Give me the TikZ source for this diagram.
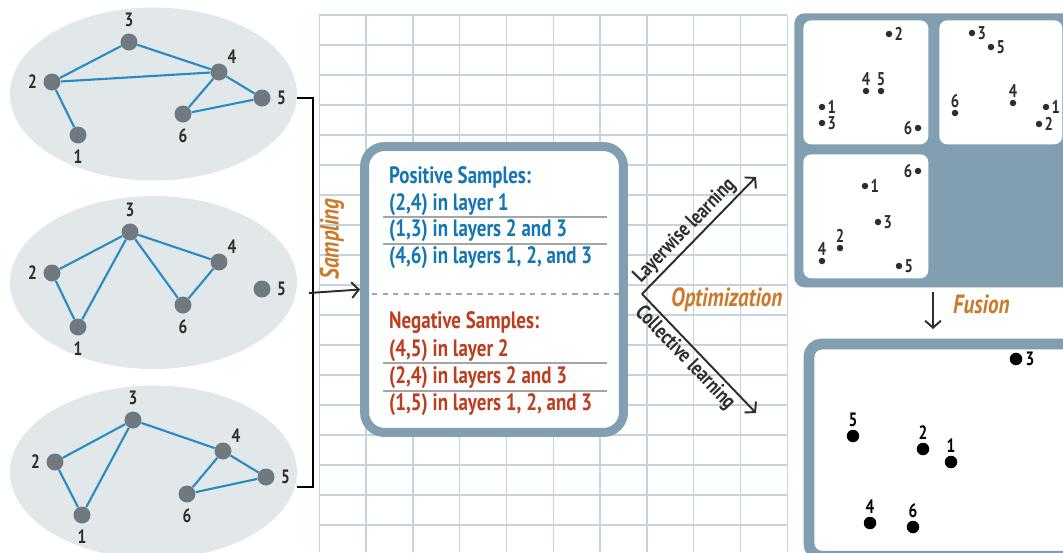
\documentclass[tikz,border=0pt]{standalone}
\usepackage{fontspec}
\setmainfont{PT Sans}
\newfontfamily\narrowfont[FakeStretch=0.8]{PT Sans}
\usetikzlibrary{arrows.meta,shapes.geometric}
\definecolor{gridc}{RGB}{196,212,222}
\definecolor{layerc}{RGB}{226,231,234}
\definecolor{nodec}{RGB}{112,120,128}
\definecolor{edgec}{RGB}{40,140,196}
\definecolor{boxc}{RGB}{129,159,176}
\definecolor{posc}{RGB}{20,118,178}
\definecolor{negc}{RGB}{188,62,30}
\definecolor{stepc}{RGB}{204,122,42}
\definecolor{labc}{RGB}{45,45,45}
\definecolor{sepc}{RGB}{165,165,165}

\begin{document}
\begin{tikzpicture}[x=0.02cm,y=-0.02cm]
	\tikzset{gnode/.style={circle, fill=nodec, inner sep=0pt, minimum size=.34cm},
		gedge/.style={draw=edgec, line width=1.2pt},
		glab/.style={font=\narrowfont\bfseries\fontsize{11}{13}\selectfont, text=labc},
		layer/.style={ellipse, fill=layerc, minimum width=5.74cm, minimum height=3.46cm},
		rowtext/.style={anchor=base west, font=\narrowfont\bfseries\fontsize{13.5}{15}\selectfont},
		steptext/.style={text=stepc, font=\narrowfont\bfseries\itshape\fontsize{15}{17}\selectfont},
		flow/.style={draw=labc, line width=1.1pt, -{Straight Barb[length=4pt,width=9pt]}},
		sdot/.style={circle, fill=labc, inner sep=0pt, minimum size=.13cm},
		bdot/.style={circle, fill=black, inner sep=0pt, minimum size=.25cm},
		slab/.style={font=\narrowfont\bfseries\fontsize{10.5}{12}\selectfont, text=labc, inner sep=1pt},
		blab/.style={font=\narrowfont\bfseries\fontsize{11}{13}\selectfont, text=black, inner sep=1.5pt},
		panel/.style={fill=white, rounded corners=1.6mm, anchor=north west, inner sep=0pt}}
	
	\useasboundingbox (0,0) rectangle (1063,552);
	\clip (0,0) rectangle (1063,552);
	
	\foreach \i in {0,...,10}
		\draw[gridc, line width=.8pt] (319.3+46.8*\i,15) -- (319.3+46.8*\i,552);
	\foreach \j in {0,...,17}
		\draw[gridc, line width=.8pt] (319.3,15+30*\j) -- (787.3,15+30*\j);
	
	\node[layer] (layer_1) at (153.5,94) {};
	\node[layer] (layer_2) at (153.5,282.5) {};
	\node[layer] (layer_3) at (153.5,472) {};
	
	\node[gnode, label={[glab]below:1}] (a_1) at (78,135) {};
	\node[gnode, label={[glab]left:2}] (a_2) at (52,82) {};
	\node[gnode, label={[glab]above:3}] (a_3) at (129,42) {};
	\node[gnode, label={[glab, label distance=-3pt]above right:4}] (a_4) at (219,72) {};
	\node[gnode, label={[glab]right:5}] (a_5) at (262,98) {};
	\node[gnode, label={[glab]below:6}] (a_6) at (183,114) {};
	\draw[gedge] (a_2) -- (a_3) -- (a_4) -- (a_2) -- (a_1);
	\draw[gedge] (a_4) -- (a_5) -- (a_6) -- (a_4);
	
	\node[gnode, label={[glab]below:1}] (b_1) at (78,327) {};
	\node[gnode, label={[glab]left:2}] (b_2) at (52,273) {};
	\node[gnode, label={[glab]above:3}] (b_3) at (130,232) {};
	\node[gnode, label={[glab, label distance=-3pt]above right:4}] (b_4) at (219,262) {};
	\node[gnode, label={[glab]right:5}] (b_5) at (262,289) {};
	\node[gnode, label={[glab]below:6}] (b_6) at (183,305) {};
	\draw[gedge] (b_1) -- (b_2) -- (b_3) -- (b_1);
	\draw[gedge] (b_3) -- (b_6) -- (b_4) -- (b_3);
	
	\node[gnode, label={[glab]below:1}] (c_1) at (82,515) {};
	\node[gnode, label={[glab]left:2}] (c_2) at (55,462) {};
	\node[gnode, label={[glab]above:3}] (c_3) at (133,420) {};
	\node[gnode, label={[glab, label distance=-3pt]above right:4}] (c_4) at (223,451) {};
	\node[gnode, label={[glab]right:5}] (c_5) at (266,477) {};
	\node[gnode, label={[glab]below:6}] (c_6) at (187,494) {};
	\draw[gedge] (c_1) -- (c_2) -- (c_3) -- (c_1);
	\draw[gedge] (c_3) -- (c_4) -- (c_5) -- (c_6) -- (c_4);
	
	\coordinate (brk_top) at (297,98);
	\coordinate (brk_bot) at (297,487);
	\coordinate (brk) at (309,293);
	\draw[black, line width=1.1pt] (brk_top) -- ++(16,0) |- (brk_bot);
	
	\node[draw=boxc, fill=white, line width=5.1pt, rounded corners=4mm, minimum width=5.18cm, minimum height=5.72cm] (samples) at (494,289.5) {};
	\draw[flow] (brk) -- (samples.west);
	\node[steptext, rotate=90] (sampling) at (332,239) {Sampling};
	
	\node[rowtext, text=posc] (pos_0) at (383,183.5) {Positive Samples:};
	\node[rowtext, text=posc] (pos_1) at (383,210) {(2,4) in layer 1};
	\node[rowtext, text=posc] (pos_2) at (383,236.5) {(1,3) in layers 2 and 3};
	\node[rowtext, text=posc] (pos_3) at (383,263.5) {(4,6) in layers 1, 2, and 3};
	\draw[sepc, line width=.6pt] (383,217) -- (607,217) (383,244) -- (607,244);
	\draw[sepc, line width=.9pt, dashed] (372,294) -- (619,294);
	\node[rowtext, text=negc] (neg_0) at (383,328.5) {Negative Samples:};
	\node[rowtext, text=negc] (neg_1) at (383,356.5) {(4,5) in layer 2};
	\node[rowtext, text=negc] (neg_2) at (383,383.5) {(2,4) in layers 2 and 3};
	\node[rowtext, text=negc] (neg_3) at (383,410) {(1,5) in layers 1, 2, and 3};
	\draw[sepc, line width=.6pt] (383,363) -- (607,363) (383,391) -- (607,391);
	
	\coordinate (opt) at (642,294);
	\coordinate (opt_up) at (756,177);
	\coordinate (opt_down) at (756,413);
	\draw[flow] (opt) -- node[pos=.46, sloped, above, inner sep=1.5pt, font=\narrowfont\bfseries\fontsize{12}{14}\selectfont, text=labc] {Layerwise learning} (opt_up);
	\draw[flow] (opt) -- node[pos=.46, sloped, below, inner sep=1.5pt, font=\narrowfont\bfseries\fontsize{12}{14}\selectfont, text=labc] {Collective learning} (opt_down);
	\node[steptext, anchor=west] (optimization) at (665,300) {Optimization};
	
	\node[fill=boxc, rounded corners=2mm, anchor=north west, inner sep=0pt, minimum width=5.8cm, minimum height=5.48cm] (perlayer) at (794,13) {};
	\node[panel, minimum width=2.5cm, minimum height=2.48cm] (panel_1) at (803,20) {};
	\node[panel, minimum width=2.46cm, minimum height=2.48cm] (panel_2) at (939,20) {};
	\node[panel, minimum width=2.5cm, minimum height=2.48cm] (panel_3) at (803,154) {};
	
	\node[sdot, label={[slab]right:1}] (p1_1) at (822,107) {};
	\node[sdot, label={[slab]right:2}] (p1_2) at (889,34) {};
	\node[sdot, label={[slab]right:3}] (p1_3) at (822,123) {};
	\node[sdot, label={[slab]above:4}] (p1_4) at (866,91) {};
	\node[sdot, label={[slab]above:5}] (p1_5) at (881,91) {};
	\node[sdot, label={[slab]left:6}] (p1_6) at (918,128) {};
	
	\node[sdot, label={[slab]right:1}] (p2_1) at (1046,107) {};
	\node[sdot, label={[slab]right:2}] (p2_2) at (1039,124) {};
	\node[sdot, label={[slab]right:3}] (p2_3) at (972,33) {};
	\node[sdot, label={[slab]above:4}] (p2_4) at (1013,103) {};
	\node[sdot, label={[slab]right:5}] (p2_5) at (991,47) {};
	\node[sdot, label={[slab]above:6}] (p2_6) at (955,113) {};
	
	\node[sdot, label={[slab]right:1}] (p3_1) at (865,186) {};
	\node[sdot, label={[slab]above:2}] (p3_2) at (840,248) {};
	\node[sdot, label={[slab]right:3}] (p3_3) at (878,222) {};
	\node[sdot, label={[slab]above:4}] (p3_4) at (822,261) {};
	\node[sdot, label={[slab]right:5}] (p3_5) at (899,266) {};
	\node[sdot, label={[slab]left:6}] (p3_6) at (918,171) {};
	
	\coordinate (fuse_top) at (933,292);
	\coordinate (fuse_bot) at (933,329);
	\draw[flow] (fuse_top) -- (fuse_bot);
	\node[steptext, anchor=west] (fusion) at (947,304) {Fusion};
	
	\node[draw=boxc, fill=white, line width=6.2pt, rounded corners=2.6mm, anchor=north west, inner sep=0pt, minimum width=6cm, minimum height=4.25cm] (fused) at (803.5,338.5) {};
	\node[bdot, label={[blab]above:1}] (f_1) at (951,462) {};
	\node[bdot, label={[blab]above:2}] (f_2) at (923,449) {};
	\node[bdot, label={[blab]right:3}] (f_3) at (1016,359) {};
	\node[bdot, label={[blab]above:4}] (f_4) at (870,523) {};
	\node[bdot, label={[blab]above:5}] (f_5) at (853,436) {};
	\node[bdot, label={[blab]above:6}] (f_6) at (913,527) {};
\end{tikzpicture}
\end{document}
